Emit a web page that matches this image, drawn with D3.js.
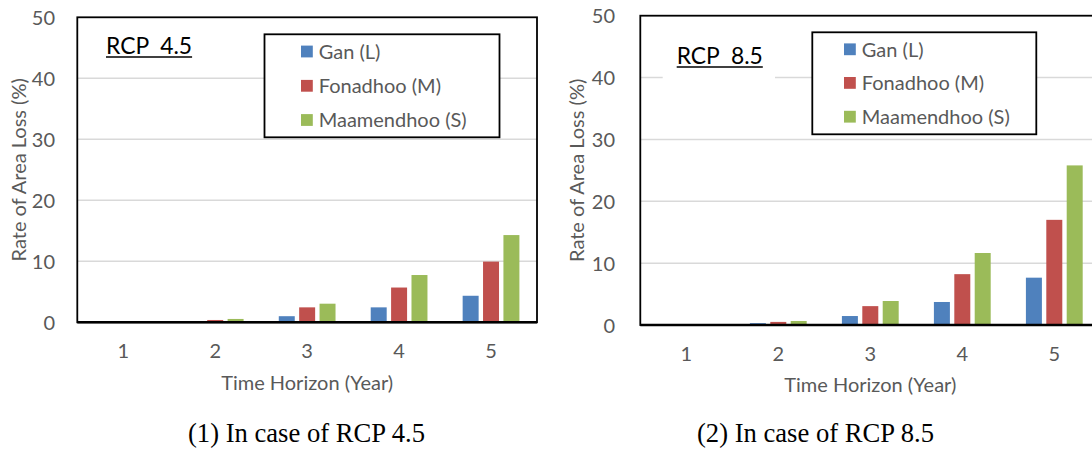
<!DOCTYPE html>
<html>
<head>
<meta charset="utf-8">
<script src="https://cdn.jsdelivr.net/npm/d3@7"></script>
<style>
  html, body { margin: 0; padding: 0; background: #ffffff; }
  svg { display: block; }
</style>
</head>
<body>
<script>
// ---------------- DATA ----------------
const years = ["1", "2", "3", "4", "5"];
const seriesNames = ["Gan (L)", "Fonadhoo (M)", "Maamendhoo (S)"];
const seriesColors = ["#4F81BD", "#C0504D", "#9BBB59"];
const yTickValues = [0, 10, 20, 30, 40, 50];

const rcp45Gan = [0, 0, 1.0, 2.45, 4.35];
const rcp45Fonadhoo = [0, 0.38, 2.45, 5.7, 9.95];
const rcp45Maamendhoo = [0, 0.55, 3.05, 7.75, 14.3];

const rcp85Gan = [0, 0.3, 1.45, 3.72, 7.65];
const rcp85Fonadhoo = [0, 0.5, 3.05, 8.22, 17.0];
const rcp85Maamendhoo = [0, 0.65, 3.88, 11.64, 25.8];

const panelLabels = ["RCP  4.5", "RCP  8.5"];
const captions = ["(1) In case of RCP 4.5", "(2) In case of RCP 8.5"];
const xTitle = "Time Horizon (Year)";
const yTitle = "Rate of Area Loss (%)";

// ---------------- SETUP ----------------
const W = 1092, H = 450;
const FONT = "Lato, 'Open Sans', sans-serif";
const SERIF = "'Liberation Serif', 'Times New Roman', serif";
const GREY = "#595959";

const svg = d3.select("body").append("svg")
  .attr("width", W).attr("height", H)
  .attr("viewBox", `0 0 ${W} ${H}`);

function measure(text, family, size) {
  const t = svg.append("text").style("font-family", family)
    .style("font-size", size + "px").text(text);
  const w = t.node().getComputedTextLength();
  t.remove();
  return w;
}
// Fit a Calibri-like size (original ~21px Calibri) by matching the title width
const FS = 100 * 172 / measure(xTitle, FONT, 100);
const FS_LABEL = FS * 24 / 21;
const FS_CAP = 100 * 237 / measure(captions[0], SERIF, 100);

const panels = [
  {
    left: 77.3, right: 537, top: 17.3, bottom: 322.3,
    yLabelX: 55, yTitleX: 19, xTickY: 28.7, xTitleY: 60.5,
    legend: { x: 264.5, y: 34.3, w: 235, h: 103, sw: 301, tx: 318.7, rows: [51.5, 85.8, 120] },
    label: { x: 106, y: 54, bg: false },
    series: [rcp45Gan, rcp45Fonadhoo, rcp45Maamendhoo]
  },
  {
    left: 640.3, right: 1100.3, top: 15.7, bottom: 325,
    yLabelX: 615, yTitleX: 576.5, xTickY: 28.3, xTitleY: 60,
    legend: { x: 812.3, y: 32.3, w: 224, h: 102, sw: 844, tx: 861.8, rows: [49.3, 82.9, 116.7] },
    label: { x: 676.7, y: 64, bg: true },
    series: [rcp85Gan, rcp85Fonadhoo, rcp85Maamendhoo]
  }
];

panels.forEach((p, pi) => {
  const g = svg.append("g");
  const x0 = d3.scaleBand().domain(years).range([p.left, p.right]);
  const x1 = d3.scaleBand().domain(seriesNames).range([0, x0.bandwidth()])
    .paddingInner(0.216).paddingOuter(0.863);
  const y = d3.scaleLinear().domain([0, 50]).range([p.bottom, p.top]);

  // gridlines
  g.append("g").selectAll("line")
    .data(yTickValues.filter(v => v > 0 && v < 50))
    .join("line")
    .attr("x1", p.left).attr("x2", p.right)
    .attr("y1", d => y(d)).attr("y2", d => y(d))
    .attr("stroke", "#d9d9d9").attr("stroke-width", 1.5);

  // white label background (right panel breaks the gridline)
  if (p.label.bg) {
    g.append("rect").attr("x", 662.7).attr("y", 38).attr("width", 112.3).attr("height", 50)
      .attr("fill", "#ffffff");
  }

  // bars
  const rows = years.map((yr, i) => ({ yr, vals: p.series.map(s => s[i]) }));
  g.append("g").selectAll("g")
    .data(rows).join("g")
    .attr("transform", d => `translate(${x0(d.yr)},0)`)
    .selectAll("rect")
    .data(d => d.vals.map((v, k) => ({ v, k })))
    .join("rect")
    .attr("x", d => x1(seriesNames[d.k]))
    .attr("width", x1.bandwidth())
    .attr("y", d => y(d.v))
    .attr("height", d => y(0) - y(d.v))
    .attr("fill", d => seriesColors[d.k]);

  // frame
  g.append("rect")
    .attr("x", p.left).attr("y", p.top)
    .attr("width", p.right - p.left).attr("height", p.bottom - p.top)
    .attr("fill", "none").attr("stroke", "#000").attr("stroke-width", 1.8);
  // x axis line (thicker)
  g.append("line").attr("x1", p.left).attr("x2", p.right)
    .attr("y1", y(0)).attr("y2", y(0))
    .attr("stroke", "#000").attr("stroke-width", 2.6);

  // y axis labels
  const ya = g.append("g").attr("transform", `translate(${p.left},0)`)
    .call(d3.axisLeft(y).tickValues(yTickValues).tickSize(0).tickPadding(p.left - p.yLabelX));
  ya.select(".domain").remove();
  ya.selectAll("text").style("font-family", FONT).style("font-size", FS + "px")
    .attr("fill", GREY).attr("dy", "0.36em");

  // x axis labels
  const xa = g.append("g").attr("transform", `translate(0,${p.bottom})`)
    .call(d3.axisBottom(x0).tickSize(0));
  xa.select(".domain").remove();
  xa.selectAll("text").style("font-family", FONT).style("font-size", FS + "px")
    .attr("fill", GREY).attr("y", p.xTickY).attr("dy", "0.36em");

  // axis titles
  g.append("text")
    .attr("x", (p.left + p.right) / 2)
    .attr("y", p.bottom + p.xTitleY).attr("dy", "0.36em")
    .attr("text-anchor", "middle")
    .style("font-family", FONT).style("font-size", FS + "px").attr("fill", GREY)
    .text(xTitle);
  g.append("text")
    .attr("transform", `translate(${p.yTitleX},${(p.top + p.bottom) / 2}) rotate(-90)`)
    .attr("dy", "0.36em").attr("text-anchor", "middle")
    .style("font-family", FONT).style("font-size", FS + "px").attr("fill", GREY)
    .text(yTitle);

  // panel label with underline
  const lt = g.append("text").attr("x", p.label.x).attr("y", p.label.y)
    .style("font-family", FONT).style("font-size", FS_LABEL + "px")
    .style("white-space", "pre").attr("xml:space", "preserve").attr("fill", "#000")
    .text(panelLabels[pi]);
  const lw = lt.node().getComputedTextLength();
  g.append("line").attr("x1", p.label.x).attr("x2", p.label.x + lw)
    .attr("y1", p.label.y + 3).attr("y2", p.label.y + 3)
    .attr("stroke", "#000").attr("stroke-width", 1.3);

  // legend
  const L = p.legend;
  g.append("rect").attr("x", L.x).attr("y", L.y).attr("width", L.w).attr("height", L.h)
    .attr("fill", "#fff").attr("stroke", "#000").attr("stroke-width", 1.8);
  const sw = 11.8;
  seriesNames.forEach((name, k) => {
    g.append("rect").attr("x", L.sw).attr("y", L.rows[k] - sw / 2)
      .attr("width", sw).attr("height", sw).attr("fill", seriesColors[k]);
    g.append("text").attr("x", L.tx).attr("y", L.rows[k]).attr("dy", "0.36em")
      .style("font-family", FONT).style("font-size", FS + "px").attr("fill", GREY)
      .text(name);
  });
});

// captions
[306.5, 815.5].forEach((cx, i) => {
  svg.append("text").attr("x", cx).attr("y", 442).attr("text-anchor", "middle")
    .style("font-family", SERIF).style("font-size", FS_CAP + "px").attr("fill", "#000")
    .text(captions[i]);
});
</script>
</body>
</html>
